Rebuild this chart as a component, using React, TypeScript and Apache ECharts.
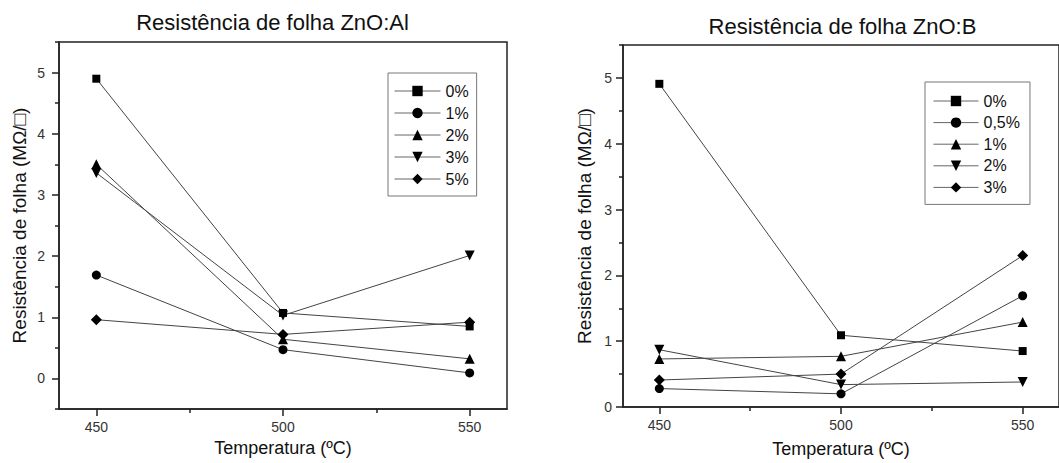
import React, { useEffect, useRef } from "react";
import * as echarts from "echarts";

const temperatures = [450, 500, 550];
const xTickValues = [450, 500, 550];
const xMinorTickValues = [475, 525];
const yTickValues = [0, 1, 2, 3, 4, 5];
const yMinorAl = [-0.5, 0.5, 1.5, 2.5, 3.5, 4.5, 5.5];
const yMinorB = [0.5, 1.5, 2.5, 3.5, 4.5, 5.5];

const alNames = ["0%", "1%", "2%", "3%", "5%"];
const al0 = [4.9, 1.07, 0.85];
const al1 = [1.69, 0.47, 0.09];
const al2 = [3.5, 0.64, 0.32];
const al3 = [3.36, 1.03, 2.01];
const al5 = [0.96, 0.72, 0.92];

const bNames = ["0%", "0,5%", "1%", "2%", "3%"];
const b0 = [4.91, 1.09, 0.85];
const b05 = [0.28, 0.2, 1.69];
const b1 = [0.73, 0.77, 1.29];
const b2 = [0.87, 0.34, 0.38];
const b3 = [0.41, 0.5, 2.3];

const titleAl = "Resistência de folha ZnO:Al";
const titleB = "Resistência de folha ZnO:B";
const xName = "Temperatura (ºC)";
const yName = "Resistência de folha (MΩ/□)";

const FONT = "'Liberation Sans', Arial, 'DejaVu Sans', sans-serif";

const symbols = [
  { symbol: "rect", size: 8, rotate: 0 },
  { symbol: "circle", size: 9, rotate: 0 },
  { symbol: "triangle", size: 10, rotate: 0 },
  { symbol: "triangle", size: 10, rotate: 180 },
  { symbol: "diamond", size: 11, rotate: 0 },
];

function mkSeries(name: string, vals: number[], idx: number, axisIdx: number) {
  const s = symbols[idx];
  return {
    type: "line",
    name,
    xAxisIndex: axisIdx,
    yAxisIndex: axisIdx,
    data: temperatures.map((t, i) => [t, vals[i]]),
    symbol: s.symbol,
    symbolSize: s.size,
    symbolRotate: s.rotate,
    showSymbol: true,
    lineStyle: { color: "#444", width: 1 },
    itemStyle: { color: "#000" },
    emphasis: { disabled: true },
  };
}

function mainX(grid: number, gap: number) {
  return {
    type: "value",
    gridIndex: grid,
    position: "bottom",
    min: 440,
    max: 560,
    axisLine: { show: true, onZero: false, lineStyle: { color: "#222", width: 1.5 } },
    axisTick: { show: true, length: 7, customValues: xTickValues, lineStyle: { color: "#222", width: 1.5 } },
    axisLabel: { show: true, customValues: xTickValues, margin: 11, fontSize: 14, color: "#333", fontFamily: FONT },
    splitLine: { show: false },
    name: xName,
    nameLocation: "middle",
    nameGap: gap,
    nameTextStyle: { fontSize: 18, color: "#111", fontFamily: FONT },
  };
}
function minorX(grid: number) {
  return {
    type: "value",
    gridIndex: grid,
    position: "bottom",
    min: 440,
    max: 560,
    axisLine: { show: false, onZero: false },
    axisTick: { show: true, length: 4, customValues: xMinorTickValues, lineStyle: { color: "#222", width: 1.5 } },
    axisLabel: { show: false },
    splitLine: { show: false },
  };
}
function mainY(grid: number, min: number, margin: number, gap: number) {
  return {
    type: "value",
    gridIndex: grid,
    position: "left",
    min,
    max: 5.5,
    axisLine: { show: true, onZero: false, lineStyle: { color: "#222", width: 1.5 } },
    axisTick: { show: true, length: 7, customValues: yTickValues, lineStyle: { color: "#222", width: 1.5 } },
    axisLabel: { show: true, customValues: yTickValues, margin, fontSize: 14, color: "#333", fontFamily: FONT },
    splitLine: { show: false },
    name: yName,
    nameLocation: "middle",
    nameGap: gap,
    nameTextStyle: { fontSize: 19, color: "#111", fontFamily: FONT },
  };
}
function minorY(grid: number, min: number, vals: number[]) {
  return {
    type: "value",
    gridIndex: grid,
    position: "left",
    offset: 0,
    min,
    max: 5.5,
    axisLine: { show: false, onZero: false },
    axisTick: { show: true, length: 4, customValues: vals, lineStyle: { color: "#222", width: 1.5 } },
    axisLabel: { show: false },
    splitLine: { show: false },
  };
}

export default function App() {
  const ref = useRef<HTMLDivElement>(null);
  useEffect(() => {
    if (!ref.current) return;
    const chart = echarts.init(ref.current, undefined, { renderer: "svg" });
    const alData = [al0, al1, al2, al3, al5];
    const bData = [b0, b05, b1, b2, b3];
    const series: any[] = [];
    alNames.forEach((n, i) => series.push(mkSeries("A:" + n, alData[i], i, 0)));
    bNames.forEach((n, i) => series.push(mkSeries("B:" + n, bData[i], i, 2)));

    const legendCommon = {
      orient: "vertical",
      borderColor: "#777",
      borderWidth: 1,
      itemHeight: 13,
      textStyle: { fontSize: 16, color: "#111", fontFamily: FONT, lineHeight: 16 },
      lineStyle: { color: "#666", width: 1 },
      formatter: (name: string) => name.slice(2),
      selectedMode: false,
      backgroundColor: "#fff",
    };

    chart.setOption({
      animation: false,
      backgroundColor: "#fff",
      grid: [
        { left: 59, top: 42, width: 448, height: 367, show: true, borderColor: "#222", borderWidth: 1.5, backgroundColor: "transparent" },
        { left: 623, top: 45, width: 440, height: 364, show: true, borderColor: "#222", borderWidth: 1.5, backgroundColor: "transparent" },
      ],
      xAxis: [mainX(0, 29), minorX(0), mainX(1, 33), minorX(1)],
      yAxis: [
        mainY(0, -0.5, 14, 30),
        minorY(0, -0.5, yMinorAl),
        mainY(1, 0, 11, 29),
        minorY(1, 0, yMinorB),
      ],
      legend: [
        {
          ...legendCommon,
          data: alNames.map((n) => "A:" + n),
          left: 388,
          top: 73,
          itemWidth: 46,
          itemGap: 6,
          padding: [10, 8, 9, 6],
        },
        {
          ...legendCommon,
          data: bNames.map((n) => "B:" + n),
          left: 925,
          top: 82,
          itemWidth: 45,
          itemGap: 5.6,
          padding: [11, 10, 9, 8],
        },
      ],
      graphic: [
        {
          type: "text",
          x: 272.5,
          y: 22.3,
          style: { text: titleAl, fontSize: 22, fontFamily: FONT, fill: "#111", textAlign: "center", textVerticalAlign: "middle" },
        },
        {
          type: "text",
          x: 842.5,
          y: 26.7,
          style: { text: titleB, fontSize: 22, fontFamily: FONT, fill: "#111", textAlign: "center", textVerticalAlign: "middle" },
        },
      ],
      series,
    });
    return () => chart.dispose();
  }, []);
  return <div ref={ref} style={{ position: "fixed", left: 0, top: 0, width: 1059, height: 463 }} />;
}
